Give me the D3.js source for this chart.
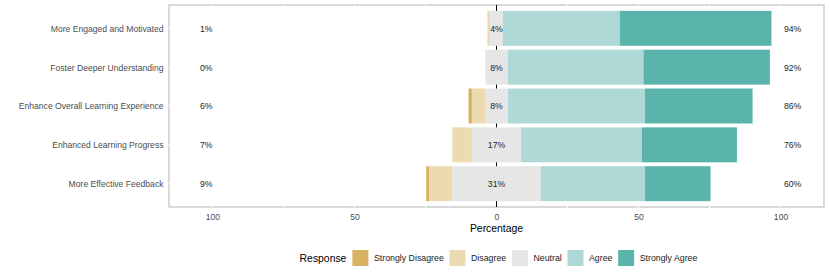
<!DOCTYPE html>
<html>
<head>
<meta charset="utf-8">
<script src="https://cdn.jsdelivr.net/npm/d3@7/dist/d3.min.js"></script>
<style>
  body { margin: 0; background: #fff; }
  svg { font-family: "Liberation Sans", Arial, sans-serif; }
</style>
</head>
<body>
<svg id="chart"></svg>
<script>
// data (percent of responses)
var items = ["More Engaged and Motivated", "Foster Deeper Understanding",
  "Enhance Overall Learning Experience", "Enhanced Learning Progress", "More Effective Feedback"];
var responses = ["Strongly Disagree", "Disagree", "Neutral", "Agree", "Strongly Agree"];
var stronglyDisagree = [0, 0, 1.2, 0, 1.2];
var disagree = [1.0, 0, 4.6, 6.9, 8.0];
var neutral = [4.4, 7.9, 8.1, 17.3, 31.1];
var agree = [41.2, 47.8, 48.2, 42.5, 36.7];
var stronglyAgree = [53.4, 44.5, 37.9, 33.5, 23.1];
var lowLabels = ["1%", "0%", "6%", "7%", "9%"];
var neutralLabels = ["4%", "8%", "8%", "17%", "31%"];
var highLabels = ["94%", "92%", "86%", "76%", "60%"];
var xTicks = [-100, -50, 0, 50, 100];
var gridX = [-100, -75, -50, -25, 25, 50, 75, 100];

var colors = ["#d9b263", "#ecdab0", "#e6e6e6", "#afd9d6", "#5ab4ac"];

var width = 830, height = 277;
// panel edges (note: "top" is a reserved window global, so use pTop etc.)
var pLeft = 169, pRight = 824, pTop = 5, pBottom = 207;

var svg = d3.select("#chart").attr("width", width).attr("height", height);

var x = d3.scaleLinear().domain([-115.3, 115.3]).range([pLeft, pRight]);
var y = d3.scalePoint().domain(items).range([pTop, pBottom]).padding(0.6);
var color = d3.scaleOrdinal().domain(responses).range(colors);
var barH = y.step() * 0.9;

// build segments: neutral split across zero
var segs = [];
items.forEach(function (d, i) {
  var vals = [stronglyDisagree[i], disagree[i], neutral[i], agree[i], stronglyAgree[i]];
  var start = -(vals[0] + vals[1] + vals[2] / 2);
  vals.forEach(function (v, j) {
    segs.push({ item: d, resp: responses[j], x0: start, x1: start + v });
    start += v;
  });
});

// panel border, with white grid lines over it like the reference
svg.append("rect")
  .attr("x", pLeft).attr("y", pTop)
  .attr("width", pRight - pLeft).attr("height", pBottom - pTop)
  .attr("fill", "none").attr("stroke", "#b3b3b3").attr("stroke-width", 1);

svg.selectAll("line.gx").data(gridX).enter().append("line")
  .attr("class", "gx")
  .attr("x1", function (d) { return x(d); }).attr("x2", function (d) { return x(d); })
  .attr("y1", pTop - 1).attr("y2", pBottom + 1)
  .attr("stroke", "#fff").attr("stroke-width", 0.8);

svg.selectAll("line.gy").data(items).enter().append("line")
  .attr("class", "gy")
  .attr("y1", function (d) { return y(d); }).attr("y2", function (d) { return y(d); })
  .attr("x1", pLeft - 1).attr("x2", pRight + 1)
  .attr("stroke", "#fff").attr("stroke-width", 0.8);

// zero line, sits under the bars
svg.append("line")
  .attr("x1", x(0)).attr("x2", x(0))
  .attr("y1", pTop).attr("y2", pBottom)
  .attr("stroke", "#000").attr("stroke-width", 1);

svg.selectAll("rect.seg").data(segs.filter(function (d) { return d.x1 > d.x0; }))
  .enter().append("rect")
  .attr("class", "seg")
  .attr("x", function (d) { return x(d.x0); })
  .attr("width", function (d) { return x(d.x1) - x(d.x0); })
  .attr("y", function (d) { return y(d.item) - barH / 2; })
  .attr("height", barH)
  .attr("fill", function (d) { return color(d.resp); });

// percent labels
function pctText(labels, xpos, anchor) {
  svg.append("g").selectAll("text").data(labels).enter().append("text")
    .attr("x", xpos)
    .attr("y", function (d, i) { return y(items[i]); })
    .attr("dy", "0.4em")
    .attr("text-anchor", anchor)
    .attr("font-size", "8.7px")
    .attr("fill", "#262626")
    .text(function (d) { return d; });
}
pctText(lowLabels, x(-100), "end");
pctText(neutralLabels, x(0), "middle");
pctText(highLabels, x(101.2), "start");

// y axis labels
svg.append("g").selectAll("text").data(items).enter().append("text")
  .attr("x", 163.5)
  .attr("y", function (d) { return y(d); })
  .attr("dy", "0.4em")
  .attr("text-anchor", "end")
  .attr("font-size", "8.6px")
  .attr("fill", "#4d4d4d")
  .text(function (d) { return d; });

// x axis
var xAxis = svg.append("g")
  .attr("transform", "translate(0," + pBottom + ")")
  .call(d3.axisBottom(x).tickValues(xTicks).tickSize(0)
    .tickFormat(function (d) { return Math.abs(d); }));
xAxis.select(".domain").remove();
xAxis.selectAll("text")
  .attr("font-family", "Liberation Sans, Arial, sans-serif")
  .attr("font-size", "8.6px").attr("fill", "#4d4d4d")
  .attr("dy", 0).attr("y", 12.8);

svg.append("text")
  .attr("x", x(0)).attr("y", 231.8)
  .attr("text-anchor", "middle")
  .attr("font-size", "10.4px").attr("fill", "#000")
  .text("Percentage");

// legend
var legend = svg.append("g").attr("transform", "translate(0,258)");
var title = legend.append("text")
  .attr("x", 299.6).attr("dy", "0.35em")
  .attr("font-size", "10.4px").attr("fill", "#000")
  .text("Response");
var cx = 299.6 + title.node().getComputedTextLength() + 6;
responses.forEach(function (r) {
  legend.append("rect")
    .attr("x", cx).attr("y", -8).attr("width", 16).attr("height", 16)
    .attr("fill", color(r));
  var t = legend.append("text")
    .attr("x", cx + 21.5).attr("dy", "0.35em")
    .attr("font-size", "8.8px").attr("fill", "#1a1a1a")
    .text(r);
  cx = cx + 21.5 + t.node().getComputedTextLength() + 5.7;
});
</script>
</body>
</html>
